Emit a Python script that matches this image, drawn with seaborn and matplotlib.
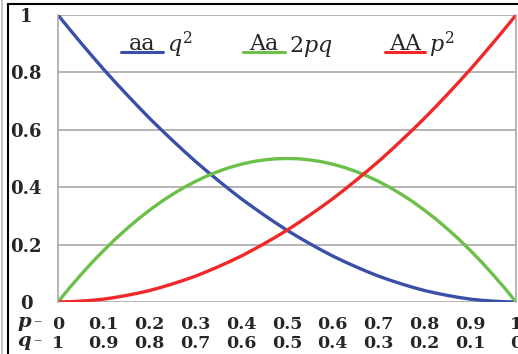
import matplotlib
matplotlib.use("Agg")
import matplotlib.pyplot as plt
import seaborn as sns
import pandas as pd
from matplotlib.lines import Line2D

# ---- data ----
p_vals = [0.0, 0.025, 0.05, 0.075, 0.1, 0.125, 0.15, 0.175, 0.2, 0.225, 0.25,
          0.275, 0.3, 0.325, 0.35, 0.375, 0.4, 0.425, 0.45, 0.475, 0.5,
          0.525, 0.55, 0.575, 0.6, 0.625, 0.65, 0.675, 0.7, 0.725, 0.75,
          0.775, 0.8, 0.825, 0.85, 0.875, 0.9, 0.925, 0.95, 0.975, 1.0]
aa_q2 = [1.0, 0.951, 0.903, 0.856, 0.81, 0.766, 0.723, 0.681, 0.64, 0.601, 0.563,
         0.526, 0.49, 0.456, 0.423, 0.391, 0.36, 0.331, 0.303, 0.276, 0.25,
         0.226, 0.203, 0.181, 0.16, 0.141, 0.123, 0.106, 0.09, 0.076, 0.063,
         0.051, 0.04, 0.031, 0.023, 0.016, 0.01, 0.006, 0.003, 0.001, 0.0]
Aa_2pq = [0.0, 0.049, 0.095, 0.139, 0.18, 0.219, 0.255, 0.289, 0.32, 0.349, 0.375,
          0.399, 0.42, 0.439, 0.455, 0.469, 0.48, 0.489, 0.495, 0.499, 0.5,
          0.499, 0.495, 0.489, 0.48, 0.469, 0.455, 0.439, 0.42, 0.399, 0.375,
          0.349, 0.32, 0.289, 0.255, 0.219, 0.18, 0.139, 0.095, 0.049, 0.0]
AA_p2 = [0.0, 0.001, 0.003, 0.006, 0.01, 0.016, 0.023, 0.031, 0.04, 0.051, 0.063,
         0.076, 0.09, 0.106, 0.123, 0.141, 0.16, 0.181, 0.203, 0.226, 0.25,
         0.276, 0.303, 0.331, 0.36, 0.391, 0.423, 0.456, 0.49, 0.526, 0.563,
         0.601, 0.64, 0.681, 0.723, 0.766, 0.81, 0.856, 0.903, 0.951, 1.0]

x_ticks = [0, 0.1, 0.2, 0.3, 0.4, 0.5, 0.6, 0.7, 0.8, 0.9, 1]
p_labels = ["0", "0.1", "0.2", "0.3", "0.4", "0.5", "0.6", "0.7", "0.8", "0.9", "1"]
q_labels = ["1", "0.9", "0.8", "0.7", "0.6", "0.5", "0.4", "0.3", "0.2", "0.1", "0"]
y_ticks = [0, 0.2, 0.4, 0.6, 0.8, 1]
y_labels = ["0", "0.2", "0.4", "0.6", "0.8", "1"]

series_names = ["aa", "Aa", "AA"]
series_math = [r"$q^2$", r"$2pq$", r"$p^2$"]
colors = ["#3a50a8", "#6cc04a", "#f02828"]

df = pd.DataFrame({
    "p": p_vals * 3,
    "value": aa_q2 + Aa_2pq + AA_p2,
    "genotype": ["aa"] * len(p_vals) + ["Aa"] * len(p_vals) + ["AA"] * len(p_vals),
})

sns.set_style("white")
plt.rcParams["font.family"] = ["DejaVu Serif"]
plt.rcParams["mathtext.fontset"] = "dejavuserif"

W, H = 518, 354
fig = plt.figure(figsize=(W / 100, H / 100), dpi=100)
x0, x1, y1, y0 = 58, 516, 15, 302
ax = fig.add_axes([x0 / W, 1 - y0 / H, (x1 - x0) / W, (y0 - y1) / H])

sns.lineplot(data=df, x="p", y="value", hue="genotype", palette=dict(zip(series_names, colors)),
             linewidth=2.4, legend=False, ax=ax)

ax.set_xlim(0, 1)
ax.set_ylim(0, 1)
ax.set_xlabel("")
ax.set_ylabel("")
grid_c = "#a8a8a8"
ax.set_yticks(y_ticks)
ax.set_yticklabels(y_labels)
ax.set_xticks(x_ticks)
ax.set_xticklabels([f"{a}\n{b}" for a, b in zip(p_labels, q_labels)], linespacing=1.2)
ax.grid(axis="y", color=grid_c, linewidth=1.2)
ax.set_axisbelow(True)
for s in ["left", "right"]:
    ax.spines[s].set_visible(True)
    ax.spines[s].set_color(grid_c)
    ax.spines[s].set_linewidth(1.2)
for s in ["top", "bottom"]:
    ax.spines[s].set_visible(False)
ax.tick_params(axis="x", direction="out", length=6, color=grid_c, width=1.2, pad=4,
               labelsize=12.5)
ax.tick_params(axis="y", direction="out", length=9, color=grid_c, width=1.2, pad=1,
               labelsize=13)
ylab_x = -(x0 - 26) / (x1 - x0)
for lab in ax.get_yticklabels():
    lab.set_fontweight("bold")
    lab.set_horizontalalignment("center")
    lab.set_transform(ax.get_yaxis_transform())
    lab.set_x(ylab_x)
for lab in ax.get_xticklabels():
    lab.set_fontweight("bold")

# p / q prefixes
def ax_x(px):
    return (px - x0) / (x1 - x0)

def ax_y(py):
    return (y0 - py) / (y0 - y1)

for letter, py in [("p", 327), ("q", 346)]:
    ax.text(ax_x(31), ax_y(py), letter, transform=ax.transAxes, ha="right",
            va="baseline", fontsize=14, fontweight="bold", fontstyle="italic")
    ax.text(ax_x(37), ax_y(py - 5), "–", transform=ax.transAxes, ha="center",
            va="center", fontsize=12, color="#555555")

# legend drawn inline
leg = [(121, 163), (243, 285), (385, 425)]
for (a, b), name, math, c in zip(leg, series_names, series_math, colors):
    ax.add_line(Line2D([ax_x(a), ax_x(b)], [ax_y(52), ax_y(52)], color=c, lw=2.2,
                       transform=ax.transAxes))
    ax.text(ax_x((a + b) / 2), ax_y(49.5), name, transform=ax.transAxes, ha="center",
            va="baseline", fontsize=16)
    ax.text(ax_x(b + 4), ax_y(52), math, transform=ax.transAxes, ha="left",
            va="baseline", fontsize=16)

# frame lines
fig.add_artist(Line2D([8 / W, 8 / W], [0, 1 - 4 / H], color="black", lw=1.5,
                      transform=fig.transFigure))
fig.add_artist(Line2D([8 / W, 1], [1 - 4 / H, 1 - 4 / H], color="black", lw=1.5,
                      transform=fig.transFigure))
fig.add_artist(Line2D([1.5 / W, 1.5 / W], [0, 1], color="#bbbbbb", lw=1.2,
                      transform=fig.transFigure))

fig.savefig("out.png", dpi=100)
